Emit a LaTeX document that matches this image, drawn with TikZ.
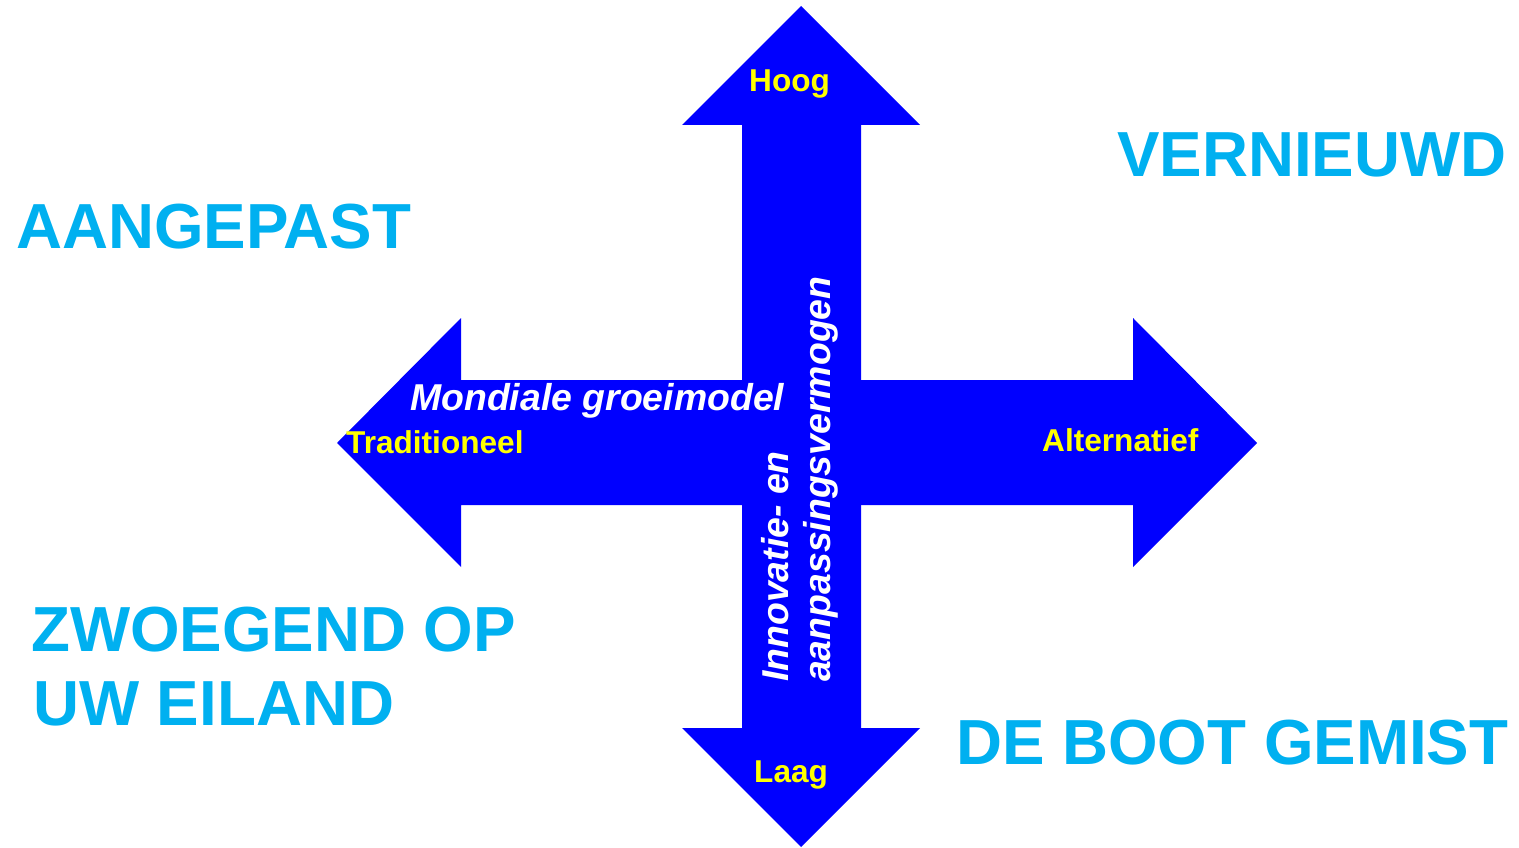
\documentclass[tikz,border=0pt]{standalone}
\usepackage{fontspec}
\setmainfont{Liberation Sans}
\definecolor{arrowblue}{RGB}{0,0,255}
\definecolor{labelcyan}{RGB}{0,176,240}
\definecolor{labelyellow}{RGB}{255,255,0}
\begin{document}
\begin{tikzpicture}[x=1pt,y=-1pt,
  big/.style={inner sep=0pt,anchor=base west,text=labelcyan,font=\fontsize{63.7}{74}\selectfont\bfseries},
  pole/.style={inner sep=0pt,anchor=base west,text=labelyellow,font=\fontsize{31.6}{36}\selectfont\bfseries},
  axis/.style={inner sep=0pt,anchor=base west,text=white,font=\fontsize{37.4}{42}\selectfont\bfseries\itshape}]
\useasboundingbox (0,0) rectangle (1519,848);
\fill[arrowblue] (682,125) -- (801,6) -- (920,125) -- (861,125) -- (861,728) -- (920,728) -- (801,847) -- (682,728) -- (742,728) -- (742,125) -- cycle;
\fill[arrowblue] (337,443) -- (461,318) -- (461,380) -- (1133,380) -- (1133,318) -- (1257,443) -- (1133,567) -- (1133,505) -- (461,505) -- (461,567) -- cycle;
\node[pole] (hoog) at (749,92) {Hoog};
\node[pole] (laag) at (754,782) {Laag};
\node[pole] (trad) at (346,453) {Traditioneel};
\node[pole] (alt) at (1042,451) {Alternatief};
\node[axis] (mond) at (410,410) {Mondiale groeimodel};
\node[axis,rotate=90] (inno) at (788,682) {Innovatie- en};
\node[axis,rotate=90] (aanp) at (830,682) {aanpassingsvermogen};
\node[big] (aang) at (16,248) {AANGEPAST};
\node[big] (vern) at (1117,177) {VERNIEUWD};
\node[big] (zwoe) at (31,651) {ZWOEGEND OP};
\node[big] (eila) at (33,725) {UW EILAND};
\node[big] (boot) at (956,764) {DE BOOT GEMIST};
\end{tikzpicture}
\end{document}
